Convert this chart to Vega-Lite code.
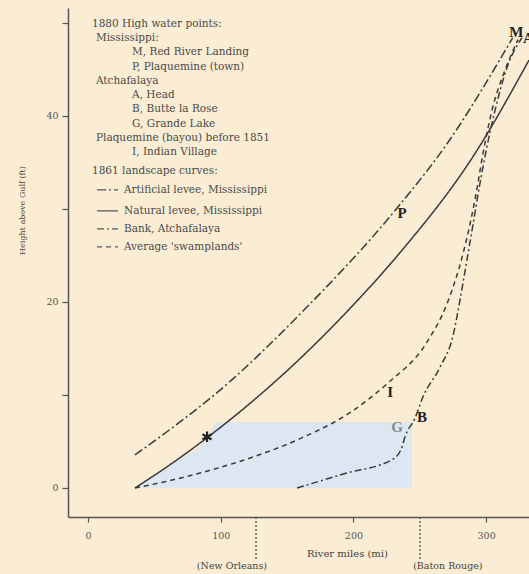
{
  "$schema": "https://vega.github.io/schema/vega-lite/v6.json",
  "autosize": {"type": "none"},
  "padding": {"left": 68, "top": 8, "right": 0, "bottom": 57},
  "width": 461,
  "height": 509,
  "background": "#FAEDD3",
  "config": {
    "view": {"stroke": null},
    "font": "DejaVu Serif",
    "axis": {"labelFont": "DejaVu Serif", "titleFont": "DejaVu Serif", "labelColor": "#555", "titleColor": "#444", "domainColor": "#555", "tickColor": "#555", "domainWidth": 1.5, "tickWidth": 1.2, "grid": false, "labelFontSize": 9.5, "titleFontSize": 10, "titleFontWeight": "normal"}
  },
  "datasets": {
    "curves": [
      {"series": "Natural levee, Mississippi", "x": 35.4, "y": 0},
      {"series": "Natural levee, Mississippi", "x": 61.8, "y": 2.5},
      {"series": "Natural levee, Mississippi", "x": 89.7, "y": 5.4},
      {"series": "Natural levee, Mississippi", "x": 122.1, "y": 9.1},
      {"series": "Natural levee, Mississippi", "x": 154.5, "y": 13.2},
      {"series": "Natural levee, Mississippi", "x": 197.4, "y": 19.3},
      {"series": "Natural levee, Mississippi", "x": 235.1, "y": 25.3},
      {"series": "Natural levee, Mississippi", "x": 290.9, "y": 35.8},
      {"series": "Natural levee, Mississippi", "x": 332.3, "y": 46.0},
      {"series": "Artificial levee, Mississippi", "x": 35.4, "y": 3.55},
      {"series": "Artificial levee, Mississippi", "x": 109.0, "y": 11.7},
      {"series": "Artificial levee, Mississippi", "x": 159.8, "y": 18.7},
      {"series": "Artificial levee, Mississippi", "x": 232.9, "y": 30.1},
      {"series": "Artificial levee, Mississippi", "x": 270.0, "y": 36.9},
      {"series": "Artificial levee, Mississippi", "x": 320.0, "y": 48.4},
      {"series": "Average 'swamplands'", "x": 35.4, "y": 0},
      {"series": "Average 'swamplands'", "x": 61.8, "y": 0.8},
      {"series": "Average 'swamplands'", "x": 91.9, "y": 1.9},
      {"series": "Average 'swamplands'", "x": 125.8, "y": 3.4},
      {"series": "Average 'swamplands'", "x": 159.8, "y": 5.3},
      {"series": "Average 'swamplands'", "x": 197.4, "y": 8.1},
      {"series": "Average 'swamplands'", "x": 225.3, "y": 11.2},
      {"series": "Average 'swamplands'", "x": 255.5, "y": 15.7},
      {"series": "Average 'swamplands'", "x": 270.5, "y": 19.8},
      {"series": "Average 'swamplands'", "x": 282.6, "y": 25.2},
      {"series": "Average 'swamplands'", "x": 291.6, "y": 31.0},
      {"series": "Average 'swamplands'", "x": 297.7, "y": 36.0},
      {"series": "Average 'swamplands'", "x": 304.4, "y": 40.6},
      {"series": "Average 'swamplands'", "x": 314.2, "y": 44.9},
      {"series": "Average 'swamplands'", "x": 324.0, "y": 48.2},
      {"series": "Bank, Atchafalaya", "x": 157.5, "y": 0},
      {"series": "Bank, Atchafalaya", "x": 193.6, "y": 1.55},
      {"series": "Bank, Atchafalaya", "x": 229.8, "y": 3.1},
      {"series": "Bank, Atchafalaya", "x": 236.6, "y": 4.4},
      {"series": "Bank, Atchafalaya", "x": 238.9, "y": 5.5},
      {"series": "Bank, Atchafalaya", "x": 246.4, "y": 7.5},
      {"series": "Bank, Atchafalaya", "x": 252.4, "y": 9.8},
      {"series": "Bank, Atchafalaya", "x": 265.3, "y": 13.0},
      {"series": "Bank, Atchafalaya", "x": 275.1, "y": 16.4},
      {"series": "Bank, Atchafalaya", "x": 280.3, "y": 20.2},
      {"series": "Bank, Atchafalaya", "x": 284.9, "y": 24.0},
      {"series": "Bank, Atchafalaya", "x": 289.6, "y": 27.9},
      {"series": "Bank, Atchafalaya", "x": 295.4, "y": 32.8},
      {"series": "Bank, Atchafalaya", "x": 300.2, "y": 36.4},
      {"series": "Bank, Atchafalaya", "x": 306.7, "y": 40.6},
      {"series": "Bank, Atchafalaya", "x": 316.5, "y": 45.5},
      {"series": "Bank, Atchafalaya", "x": 327.0, "y": 48.4}
    ],
    "shade": [
      {"x": 35.4, "y": 0},
      {"x": 61.8, "y": 2.5},
      {"x": 89.7, "y": 5.4},
      {"x": 97.5, "y": 7.1},
      {"x": 244.0, "y": 7.1}
    ],
    "legendKeys": [
      {"series": "Artificial levee, Mississippi", "x": 6.8, "x2": 22.6, "y": 32.04},
      {"series": "Natural levee, Mississippi", "x": 6.8, "x2": 22.6, "y": 29.78},
      {"series": "Bank, Atchafalaya", "x": 6.8, "x2": 22.6, "y": 27.85},
      {"series": "Average 'swamplands'", "x": 6.8, "x2": 22.6, "y": 25.91}
    ],
    "legendText": [
      {"text": "1880 High water points:", "x": 3.0, "y": 49.89},
      {"text": "Mississippi:", "x": 6.0, "y": 48.39},
      {"text": "M, Red River Landing", "x": 33.2, "y": 46.88},
      {"text": "P, Plaquemine (town)", "x": 33.2, "y": 45.27},
      {"text": "Atchafalaya", "x": 6.0, "y": 43.76},
      {"text": "A, Head", "x": 33.2, "y": 42.26},
      {"text": "B, Butte la Rose", "x": 33.2, "y": 40.75},
      {"text": "G, Grande Lake", "x": 33.2, "y": 39.14},
      {"text": "Plaquemine (bayou) before 1851", "x": 6.0, "y": 37.63},
      {"text": "I, Indian Village", "x": 33.2, "y": 36.13},
      {"text": "1861 landscape curves:", "x": 3.0, "y": 34.09},
      {"text": "Artificial levee, Mississippi", "x": 27.1, "y": 32.04},
      {"text": "Natural levee, Mississippi", "x": 27.1, "y": 29.78},
      {"text": "Bank, Atchafalaya", "x": 27.1, "y": 27.85},
      {"text": "Average 'swamplands'", "x": 27.1, "y": 25.91}
    ],
    "letters": [
      {"text": "M", "x": 322.8, "y": 49.0, "tone": "dark"},
      {"text": "A", "x": 331.8, "y": 48.4, "tone": "dark"},
      {"text": "P", "x": 236.6, "y": 29.6, "tone": "dark"},
      {"text": "I", "x": 227.6, "y": 10.3, "tone": "dark"},
      {"text": "B", "x": 251.7, "y": 7.6, "tone": "dark"},
      {"text": "G", "x": 232.9, "y": 6.6, "tone": "light"}
    ],
    "star": [{"x": 89.7, "y": 5.5}],
    "cities": [
      {"name": "(New Orleans)", "x": 126.6, "y": -3.12, "y2": -7.74, "lx": 134.9, "ly": -8.35},
      {"name": "(Baton Rouge)", "x": 250.2, "y": -3.12, "y2": -7.74, "lx": 245.0, "ly": -8.35}
    ]
  },
  "layer": [
    {
      "data": {"name": "shade"},
      "mark": {"type": "area", "color": "#DDE7F2", "opacity": 1, "interpolate": "monotone"},
      "encoding": {
        "x": {"field": "x", "type": "quantitative", "scale": {"domain": [-15.07, 332.3], "nice": false, "zero": false},
          "axis": {"values": [0, 100, 200, 300], "tickSize": 5, "labelPadding": 8, "title": "River miles (mi)", "titleX": 279, "titleY": 36, "titleBaseline": "middle", "titleAnchor": null}},
        "y": {"field": "y", "type": "quantitative", "scale": {"domain": [-3.12, 51.6], "nice": false, "zero": false},
          "axis": {"values": [0, 10, 20, 30, 40, 50], "labelExpr": "datum.value % 20 === 0 ? datum.label : ''", "tickSize": 6, "labelPadding": 4, "title": "Height above Gulf (ft)", "titleFontSize": 8, "titleX": -46, "titleY": 202, "titleBaseline": "middle", "titleAlign": "center", "titleAngle": -90}},
        "y2": {"datum": 0}
      }
    },
    {
      "data": {"name": "curves"},
      "mark": {"type": "line", "color": "#3a3a3a", "strokeWidth": 1.5, "clip": true, "interpolate": "monotone"},
      "encoding": {
        "x": {"field": "x", "type": "quantitative"},
        "y": {"field": "y", "type": "quantitative"},
        "detail": {"field": "series"},
        "strokeDash": {"field": "series", "type": "nominal", "legend": null,
          "scale": {"domain": ["Artificial levee, Mississippi", "Natural levee, Mississippi", "Bank, Atchafalaya", "Average 'swamplands'"],
                    "range": [[9, 3, 2, 3], [1, 0], [7, 3, 2, 3], [5, 4]]}}
      }
    },
    {
      "data": {"name": "legendKeys"},
      "mark": {"type": "rule", "color": "#555", "strokeWidth": 1.2},
      "encoding": {
        "x": {"field": "x", "type": "quantitative"},
        "x2": {"field": "x2"},
        "y": {"field": "y", "type": "quantitative"},
        "strokeDash": {"field": "series", "type": "nominal", "legend": null}
      }
    },
    {
      "data": {"name": "legendText"},
      "mark": {"type": "text", "align": "left", "baseline": "middle", "font": "DejaVu Serif", "fontSize": 10.5, "color": "#4a4a4a"},
      "encoding": {
        "x": {"field": "x", "type": "quantitative"},
        "y": {"field": "y", "type": "quantitative"},
        "text": {"field": "text"}
      }
    },
    {
      "data": {"name": "letters"},
      "mark": {"type": "text", "align": "center", "baseline": "middle", "font": "Liberation Serif", "fontSize": 15, "fontWeight": "bold"},
      "encoding": {
        "x": {"field": "x", "type": "quantitative"},
        "y": {"field": "y", "type": "quantitative"},
        "text": {"field": "text"},
        "color": {"field": "tone", "type": "nominal", "legend": null, "scale": {"domain": ["dark", "light"], "range": ["#222", "#8a8a8a"]}}
      }
    },
    {
      "data": {"name": "star"},
      "mark": {"type": "point", "shape": "M0,-1L0,1M-0.87,-0.5L0.87,0.5M-0.87,0.5L0.87,-0.5", "filled": false, "stroke": "#222", "strokeWidth": 2.2, "size": 110, "opacity": 1},
      "encoding": {
        "x": {"field": "x", "type": "quantitative"},
        "y": {"field": "y", "type": "quantitative"}
      }
    },
    {
      "data": {"name": "cities"},
      "mark": {"type": "rule", "color": "#444", "strokeWidth": 1.2, "strokeDash": [2, 2]},
      "encoding": {
        "x": {"field": "x", "type": "quantitative"},
        "y": {"field": "y", "type": "quantitative"},
        "y2": {"field": "y2"}
      }
    },
    {
      "data": {"name": "cities"},
      "transform": [{"filter": "datum.name === '(New Orleans)'"}],
      "mark": {"type": "text", "align": "right", "baseline": "middle", "font": "DejaVu Serif", "fontSize": 9.5, "color": "#444"},
      "encoding": {
        "x": {"field": "lx", "type": "quantitative"},
        "y": {"field": "ly", "type": "quantitative"},
        "text": {"field": "name"}
      }
    },
    {
      "data": {"name": "cities"},
      "transform": [{"filter": "datum.name === '(Baton Rouge)'"}],
      "mark": {"type": "text", "align": "left", "baseline": "middle", "font": "DejaVu Serif", "fontSize": 9.5, "color": "#444"},
      "encoding": {
        "x": {"field": "lx", "type": "quantitative"},
        "y": {"field": "ly", "type": "quantitative"},
        "text": {"field": "name"}
      }
    }
  ]
}
